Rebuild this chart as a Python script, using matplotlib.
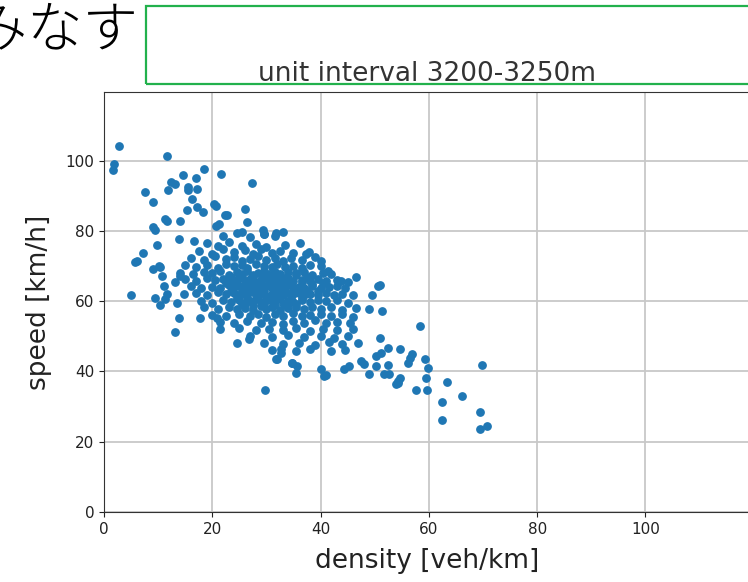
import matplotlib.pyplot as plt
from matplotlib.patches import Rectangle

# sparse points around the main cloud
sparse_density = [2.8, 1.9, 1.6, 11.6, 18.4, 14.6, 21.6, 27.3, 16.9, 12.4, 13.2, 11.9, 15.6, 15.5,
                  17.1, 7.5, 9.0, 16.3, 17.2, 20.3, 20.6, 26.0, 15.3, 18.3, 22.4, 22.8, 11.3, 11.6,
                  14.1, 26.5, 20.6, 21.2, 9.0, 9.5, 25.5, 29.3, 29.6, 31.7, 36.2, 9.8, 13.9, 16.6,
                  7.2, 5.8, 6.1, 9.1, 10.1, 10.7, 4.9, 9.5, 10.3, 11.6, 11.3, 13.9, 13.2,
                  13.2, 14.1, 11.0, 10.4, 13.5, 14.7, 17.8, 20.9, 21.5, 24.6, 26.8, 31.7, 32.7,
                  34.8, 35.7, 40.1, 37.3, 37.9, 40.1, 41.3, 43.8,
                  46.6, 50.9, 50.6, 49.5, 49.0, 51.4, 58.4, 50.9, 52.4, 54.7, 56.8, 56.5, 56.2,
                  50.3, 51.2, 59.2, 59.9, 52.4, 50.3, 49.0, 51.8, 52.7, 54.6, 54.3, 53.9, 59.4,
                  63.3, 69.9, 57.6, 59.6, 66.2, 62.4, 69.5, 62.4, 69.5, 70.7, 29.7, 35.4, 34.8,
                  32.0, 32.7, 41.0, 44.4, 45.3, 47.5, 48.1, 40.7, 54.3]
sparse_speed = [104.1, 99.1, 97.2, 101.2, 97.7, 95.8, 96.1, 93.7, 94.9, 93.9, 93.4, 91.5, 92.5, 91.5,
                92.0, 91.0, 88.2, 89.1, 86.8, 87.7, 87.2, 86.3, 85.8, 85.3, 84.6, 84.4, 83.4, 82.9,
                82.9, 82.5, 81.5, 82.0, 81.0, 80.1, 79.8, 80.1, 79.1, 79.3, 76.6, 76.0, 77.7, 77.2,
                73.7, 71.2, 71.5, 69.1, 70.1, 67.2, 61.8, 61.0, 58.9, 62.0, 60.6, 55.3, 51.3,
                65.3, 67.2, 64.4, 69.6, 59.6, 62.0, 55.3, 55.3, 52.0, 48.2, 49.1, 43.4, 46.3,
                42.5, 41.5, 40.6, 73.4, 73.9, 71.5, 68.7, 65.8,
                66.8, 64.6, 64.4, 61.7, 57.7, 57.2, 52.9, 49.6, 46.8, 46.3, 44.9, 43.9, 42.5,
                44.4, 45.1, 43.4, 41.0, 41.7, 41.5, 39.3, 39.4, 39.4, 38.2, 37.2, 36.5, 38.2,
                37.0, 41.7, 34.7, 34.7, 33.1, 31.3, 28.5, 26.1, 23.7, 24.4, 34.8, 39.6, 42.5,
                43.4, 45.3, 38.9, 40.6, 41.5, 42.9, 42.0, 38.7, 36.8]

# dense cloud, listed band by band (speed ~79 down to ~46)
core_density = [
    22.0, 24.5, 27.0, 29.5, 31.5, 33.0,
    19.0, 21.0, 23.0, 25.5, 28.0, 30.0, 33.5,
    17.5, 20.0, 22.0, 24.0, 26.0, 27.5, 29.0, 31.0, 32.5, 35.0,
    16.0, 18.5, 20.5, 22.5, 24.0, 25.5, 27.0, 28.5, 30.0, 31.5, 33.0, 34.5, 36.5, 39.0,
    15.0, 17.0, 19.0, 21.0, 22.5, 24.0, 25.5, 26.5, 28.0, 29.5, 31.0, 32.0, 33.5, 35.0, 36.5, 38.0, 40.0,
    14.0, 16.5, 18.5, 20.0, 21.5, 23.0, 24.5, 25.5, 26.5, 27.5, 28.5, 29.5, 30.5, 31.5, 32.5, 34.0,
    35.5, 37.0, 38.5, 40.5, 42.0,
    15.0, 17.0, 19.0, 20.5, 22.0, 23.0, 24.0, 25.0, 26.0, 27.0, 28.0, 29.0, 30.0, 31.0, 32.0, 33.0,
    34.0, 35.0, 36.5, 38.0, 39.5, 41.0, 43.0, 45.0,
    16.0, 18.0, 20.0, 21.5, 23.0, 24.0, 25.0, 26.0, 27.0, 28.0, 29.0, 30.0, 31.0, 32.0, 33.0, 34.0,
    35.0, 36.0, 37.0, 38.5, 40.0, 41.5, 43.0, 44.5,
    17.0, 19.0, 21.0, 22.5, 24.0, 25.0, 26.0, 27.0, 28.0, 29.0, 30.0, 31.0, 32.0, 33.0, 34.0, 35.0,
    36.0, 37.0, 38.0, 39.5, 41.0, 42.5, 44.0, 46.0,
    18.0, 20.0, 22.0, 23.5, 25.0, 26.0, 27.0, 28.0, 29.0, 30.0, 31.0, 32.0, 33.0, 34.0, 35.0, 36.5,
    38.0, 39.5, 41.0, 43.0, 45.0,
    18.5, 21.0, 23.0, 24.5, 26.0, 27.5, 29.0, 30.0, 31.0, 32.5, 34.0, 35.5, 37.0, 38.5, 40.0, 42.0,
    44.0, 46.5,
    20.0, 22.5, 25.0, 27.0, 28.5, 30.0, 31.5, 33.0, 35.0, 36.5, 38.0, 40.0, 42.0, 44.0, 46.0,
    21.5, 24.0, 26.5, 29.0, 31.0, 33.0, 35.0, 37.0, 39.0, 41.0, 43.0, 45.5,
    25.0, 28.0, 30.5, 33.0, 35.5, 38.0, 40.5, 43.0, 46.0,
    27.0, 31.0, 34.0, 37.0, 40.0, 42.5, 45.0,
    29.5, 33.0, 36.0, 39.0, 41.5, 44.0, 47.0,
    31.0, 35.5, 38.0, 42.0, 44.5,
    # in-between rows filling the centre
    23.5, 25.5, 27.5, 29.5, 31.5, 33.5, 35.5, 37.5,
    22.5, 24.5, 26.5, 28.5, 30.5, 32.5, 34.5, 36.5, 38.5, 40.5,
    23.5, 25.5, 27.5, 29.5, 31.5, 33.5, 35.5, 37.5, 39.5,
    24.5, 26.5, 28.5, 30.5, 32.5, 34.5, 36.5,
    25.5, 27.5, 29.5, 31.5, 33.5, 35.5,
]
core_speed = [
    78.6, 79.4, 78.2, 79.0, 78.5, 79.6,
    76.4, 75.6, 76.9, 75.8, 76.3, 75.4, 76.1,
    74.2, 73.5, 74.8, 73.9, 74.5, 73.3, 74.7, 73.8, 74.3, 73.6,
    72.3, 71.6, 72.8, 71.9, 72.5, 71.4, 72.1, 72.7, 71.7, 72.4, 71.5, 72.2, 71.8, 72.6,
    70.4, 69.7, 70.2, 69.5, 70.6, 69.9, 70.3, 69.4, 70.7, 70.0, 69.6, 70.5, 69.8, 70.1, 69.5, 70.4, 69.9,
    68.1, 67.6, 68.4, 67.9, 68.6, 67.5, 68.2, 67.8, 68.5, 67.4, 68.0, 68.7, 67.7, 68.3, 67.6, 68.4,
    67.9, 68.2, 67.5, 68.1, 67.8,
    66.2, 65.7, 66.5, 65.9, 66.4, 65.6, 66.1, 66.7, 65.8, 66.3, 65.5, 66.0, 66.6, 65.7, 66.2, 65.9,
    66.5, 65.6, 66.1, 65.8, 66.4, 65.7, 66.0, 65.5,
    64.3, 63.8, 64.1, 63.6, 64.5, 63.9, 64.2, 63.7, 64.6, 63.5, 64.0, 64.4, 63.8, 64.2, 63.6, 64.5,
    63.9, 64.1, 63.7, 64.3, 63.8, 64.0, 64.4, 63.6,
    62.2, 61.7, 62.5, 61.9, 62.3, 61.6, 62.1, 62.6, 61.8, 62.4, 61.5, 62.0, 62.7, 61.7, 62.2, 61.9,
    62.4, 61.6, 62.1, 61.8, 62.3, 61.7, 62.0, 61.6,
    60.1, 59.6, 60.4, 59.8, 60.3, 59.5, 60.0, 60.6, 59.7, 60.2, 59.9, 60.5, 59.6, 60.1, 59.8, 60.4,
    59.7, 60.2, 59.9, 60.3, 59.6,
    58.2, 57.7, 58.4, 57.9, 58.1, 57.6, 58.5, 57.8, 58.3, 57.5, 58.0, 58.4, 57.7, 58.2, 57.9, 58.3,
    57.6, 58.1,
    56.1, 55.7, 56.4, 55.8, 56.2, 55.6, 56.3, 55.9, 56.5, 55.7, 56.0, 56.4, 55.8, 56.2, 55.6,
    54.2, 53.7, 54.4, 53.8, 54.1, 53.6, 54.3, 53.9, 54.5, 53.7, 54.0, 53.8,
    52.3, 51.7, 52.1, 51.8, 52.4, 51.6, 52.2, 51.9, 52.0,
    50.1, 49.7, 50.3, 49.8, 50.2, 49.6, 50.0,
    48.2, 47.7, 48.1, 47.6, 48.3, 47.8, 48.0,
    46.1, 45.7, 46.3, 45.8, 46.2,
    67.0, 66.8, 67.2, 66.9, 67.1, 66.7, 67.3, 66.9,
    65.1, 64.8, 65.3, 64.9, 65.2, 64.7, 65.0, 65.3, 64.8, 65.1,
    63.0, 62.8, 63.2, 62.9, 63.1, 62.7, 63.3, 62.9, 63.0,
    61.0, 60.8, 61.2, 60.9, 61.1, 60.7, 61.0,
    59.1, 58.8, 59.2, 58.9, 59.0, 59.2,
]

density = sparse_density + core_density
speed = sparse_speed + core_speed

fig = plt.figure(figsize=(7.48, 5.82), dpi=100)
ax = fig.add_axes([104 / 748, 70 / 582, 647 / 748, 420 / 582])

ax.scatter(density, speed, s=28, color='#1f77b4', zorder=3)
ax.set_xlim(0, 119.5)
ax.set_ylim(0, 119.5)
ax.set_xticks(range(0, 101, 20))
ax.set_yticks(range(0, 101, 20))
ax.grid(True, color='#c8c8c8', linewidth=1.3)
ax.set_axisbelow(True)
ax.tick_params(labelsize=11, colors='#222222')
for sp in ax.spines.values():
    sp.set_color('#333333')
ax.set_xlabel('density [veh/km]', fontsize=19, color='#222222', labelpad=8)
ax.set_ylabel('speed [km/h]', fontsize=19, color='#222222', labelpad=10)
ax.set_title('unit interval 3200-3250m', fontsize=19, color='#333333', pad=8)

# notebook leftovers above the plot
fig.text(138 / 748, 1 - 46 / 582, 'とみなす', fontsize=40, ha='right', va='baseline',
         family=['Noto Sans CJK JP', 'DejaVu Sans'], fontweight='light', color='black')
fig.patches.append(Rectangle((146 / 748, 1 - 84 / 582), 0.9, 78 / 582,
                             transform=fig.transFigure, fill=False,
                             edgecolor='#22b14c', linewidth=1.6))

fig.savefig('out.png', dpi=100)
